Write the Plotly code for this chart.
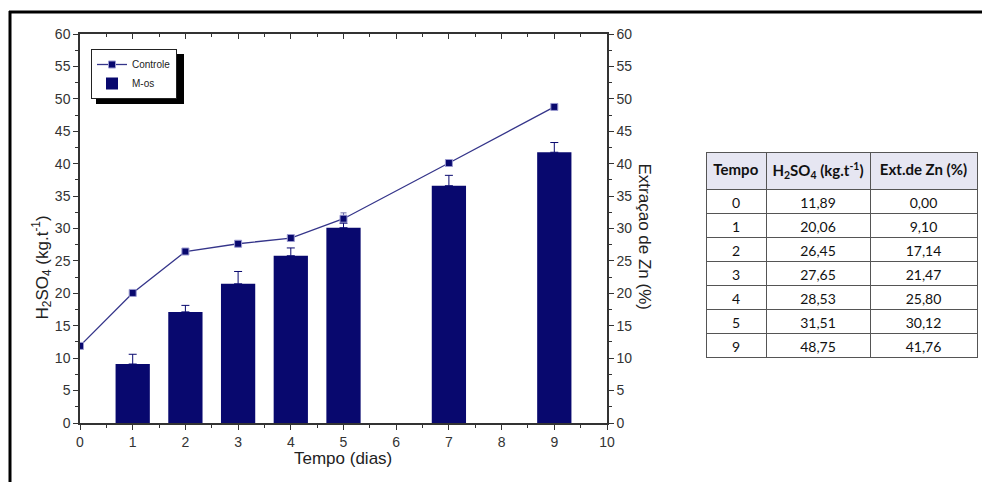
import plotly.graph_objects as go

# ---- data ----
line_days = [0, 1, 2, 3, 4, 5, 7, 9]
h2so4 = [11.89, 20.06, 26.45, 27.65, 28.53, 31.51, 40.1, 48.75]
h2so4_err = [0.0, 0.3, 0.4, 0.3, 0.3, 0.9, 0.4, 0.5]

bar_days = [1, 2, 3, 4, 5, 7, 9]
zn_ext = [9.10, 17.14, 21.47, 25.80, 30.12, 36.6, 41.76]
zn_err = [1.5, 1.0, 1.9, 1.2, 0.7, 1.6, 1.5]

table_tempo = ["0", "1", "2", "3", "4", "5", "9"]
table_h2so4 = ["11,89", "20,06", "26,45", "27,65", "28,53", "31,51", "48,75"]
table_zn = ["0,00", "9,10", "17,14", "21,47", "25,80", "30,12", "41,76"]

W, H = 982, 482
def px(x): return x / W
def py(y): return 1 - y / H

NAVY = "#08086e"
LINE = "#35358a"
FONT = "Liberation Sans, Arial, sans-serif"

fig = go.Figure()

fig.add_trace(go.Bar(
    x=bar_days, y=zn_ext, name="M-os", yaxis="y2", width=0.65,
    marker=dict(color=NAVY, line=dict(width=0)),
    error_y=dict(type="data", symmetric=False, array=zn_err,
                 arrayminus=[0] * len(zn_err), color=NAVY, thickness=1, width=4),
))
fig.add_trace(go.Scatter(
    x=line_days, y=h2so4, name="Controle", mode="lines+markers",
    line=dict(color=LINE, width=1.3),
    marker=dict(symbol="square", size=7, color=NAVY, line=dict(color="#9a9ad0", width=1)),
    error_y=dict(type="data", symmetric=False, array=h2so4_err,
                 arrayminus=[0] * len(h2so4_err), color="#6a6aa8", thickness=1, width=3),
))
# helper trace so the top mirror axis is drawn
fig.add_trace(go.Scatter(x=[0], y=[0], xaxis="x2", mode="markers",
                         marker=dict(opacity=0), showlegend=False, hoverinfo="skip"))

NB = "\u00a0"
fig.add_trace(go.Table(
    domain=dict(x=[px(706), px(977)], y=[py(480), py(152)]),
    columnwidth=[60, 104, 107],
    header=dict(
        values=["<b>Tempo</b>",
                "<b>H<sub>2</sub>SO<sub>4</sub>" + NB + "(kg.t<sup>-1</sup>)</b>",
                "<b>Ext.de" + NB + "Zn" + NB + "(%)</b>"],
        fill_color="#e6e6f2", line=dict(color="#555555", width=1),
        font=dict(family="Lato, Liberation Sans, sans-serif", size=15, color="#111"),
        align="center", height=28),
    cells=dict(
        values=[table_tempo, table_h2so4, table_zn],
        fill_color="white", line=dict(color="#555555", width=1),
        font=dict(family="Lato, Liberation Sans, sans-serif", size=14, color="#111"),
        align="center", height=24),
))

tickfont = dict(family=FONT, size=14, color="#333333")
xdom = [px(80), px(607)]
ydom = [py(423), py(34)]

fig.update_layout(
    width=W, height=H,
    margin=dict(l=0, r=0, t=0, b=0, pad=0, autoexpand=False),
    paper_bgcolor="white", plot_bgcolor="white",
    showlegend=True,
    barmode="overlay",
    xaxis=dict(domain=xdom, range=[0, 10], dtick=1, ticks="outside", ticklen=5,
               tickcolor="#333", showline=True, linecolor="#333", linewidth=1.5,
               showgrid=False, zeroline=False, tickfont=tickfont, automargin=False,
               minor=dict(dtick=0.5, ticks="outside", ticklen=3, tickcolor="#333"),
               anchor="y"),
    xaxis2=dict(domain=xdom, range=[0, 10], dtick=1, ticks="inside", ticklen=5,
                tickcolor="#333", showline=True, linecolor="#333", linewidth=1.5,
                showgrid=False, zeroline=False, showticklabels=False, side="top",
                overlaying="x", anchor="y", automargin=False,
                minor=dict(dtick=0.5, ticks="inside", ticklen=3, tickcolor="#333")),
    yaxis=dict(domain=ydom, range=[0, 60], dtick=5, ticks="outside", ticklen=5,
               tickcolor="#333", showline=True, linecolor="#333", linewidth=1.5,
               showgrid=False, zeroline=False, tickfont=tickfont, automargin=False,
               minor=dict(dtick=2.5, ticks="outside", ticklen=3, tickcolor="#333"),
               anchor="x"),
    yaxis2=dict(domain=ydom, range=[0, 60], dtick=5, ticks="outside", ticklen=5,
                tickcolor="#333", showline=True, linecolor="#333", linewidth=1.5,
                showgrid=False, zeroline=False, tickfont=tickfont, side="right",
                overlaying="y", anchor="x", automargin=False,
                minor=dict(dtick=2.5, ticks="outside", ticklen=3, tickcolor="#333")),
    legend=dict(x=px(91), y=py(49), xanchor="left", yanchor="top",
                bgcolor="white", bordercolor="#222", borderwidth=1,
                font=dict(family=FONT, size=10, color="#222"),
                itemwidth=30, traceorder="reversed", tracegroupgap=0),
    annotations=[
        dict(text="H<sub>2</sub>SO<sub>4</sub> (kg.t<sup>-1</sup>)", x=px(27), y=py(268),
             xref="paper", yref="paper", showarrow=False, textangle=-90,
             font=dict(family=FONT, size=17, color="#222")),
        dict(text="Extraçao de Zn (%)", x=px(656), y=py(236),
             xref="paper", yref="paper", showarrow=False, textangle=90,
             font=dict(family=FONT, size=17, color="#222")),
        dict(text="Tempo (dias)", x=px(343), y=py(470),
             xref="paper", yref="paper", showarrow=False,
             font=dict(family=FONT, size=17, color="#222")),
    ],
    shapes=[
        dict(type="line", xref="paper", yref="paper", x0=px(9), x1=1, y0=py(12), y1=py(12),
             line=dict(color="black", width=3)),
        dict(type="line", xref="paper", yref="paper", x0=px(10), x1=px(10), y0=py(11), y1=0,
             line=dict(color="black", width=3)),
        # legend drop shadow
        dict(type="rect", xref="paper", yref="paper", layer="above",
             x0=px(96), x1=px(184), y0=py(104), y1=py(54),
             fillcolor="black", line=dict(width=0)),
    ],
)

fig.write_html("out.html", config={"displayModeBar": False},
               post_script="document.body.style.margin='0';document.body.style.overflow='hidden';")
